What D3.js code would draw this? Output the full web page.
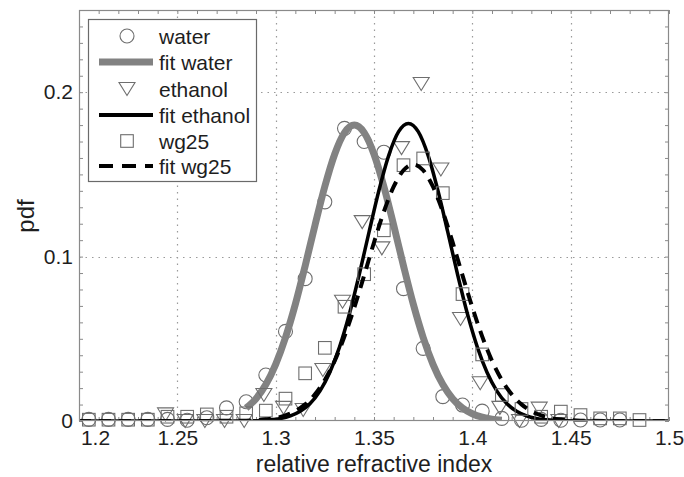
<!DOCTYPE html>
<html><head><meta charset="utf-8">
<script src="https://cdn.jsdelivr.net/npm/d3@7"></script>
<style>
body{margin:0;background:#fff}
text{font-family:"Liberation Sans",Arial,Helvetica,sans-serif;fill:#1e1e1e}
</style>
</head><body><svg id="c" width="684" height="477"></svg>
<script>
// ---- data ----
const xTicks = [1.2, 1.25, 1.3, 1.35, 1.4, 1.45, 1.5];
const xTickLabels = ["1.2", "1.25", "1.3", "1.35", "1.4", "1.45", "1.5"];
const yTicks = [0, 0.1, 0.2];
const yTickLabels = ["0", "0.1", "0.2"];
const xLabel = "relative refractive index";
const yLabel = "pdf";
const legendLabels = ["water", "fit water", "ethanol", "fit ethanol", "wg25", "fit wg25"];

const waterX = [1.205,1.215,1.225,1.235,1.245,1.255,1.265,1.275,1.285,1.295,1.305,1.315,1.325,1.335,1.345,1.355,1.365,1.375,1.385,1.395,1.405,1.415,1.425,1.435,1.445,1.455,1.465,1.475];
const waterY = [0.001,0.001,0.001,0.001,0.001,0.0005,0.002,0.008,0.0117,0.028,0.0545,0.0866,0.1333,0.178,0.170,0.1635,0.0805,0.0442,0.0148,0.0097,0.006,0.0016,0.0005,0.001,0.0005,0.0006,0.0006,0.0006];

const ethanolX = [1.244,1.254,1.264,1.274,1.284,1.294,1.304,1.314,1.324,1.334,1.344,1.354,1.364,1.374,1.384,1.394,1.404,1.414,1.424,1.434,1.444];
const ethanolY = [0.004,0,0,0,0,0.0158,0.008,0.0067,0.031,0.0725,0.121,0.105,0.166,0.205,0.153,0.062,0.023,0.008,0,0.0075,0];

const wgX = [1.205,1.215,1.225,1.235,1.245,1.255,1.265,1.275,1.285,1.295,1.305,1.315,1.325,1.335,1.345,1.355,1.365,1.375,1.385,1.395,1.405,1.415,1.425,1.435,1.445,1.455,1.465,1.475,1.485];
const wgY = [0.0008,0.0008,0.0008,0.0008,0.0026,0.0026,0.004,0.0026,0.0047,0.0063,0.0136,0.029,0.0445,0.0695,0.0893,0.116,0.1556,0.1597,0.1386,0.0772,0.0405,0.0158,0.0073,0.0026,0.0057,0.0036,0.0016,0.0016,0.0006];

const fitWaterX = [1.285,1.29,1.295,1.30,1.305,1.31,1.315,1.32,1.325,1.33,1.335,1.34,1.345,1.35,1.355,1.36,1.365,1.37,1.375,1.38,1.385,1.39,1.395,1.40,1.405,1.41,1.415];
const fitWaterY = [0.0079,0.0136,0.0222,0.0345,0.0508,0.0710,0.0944,0.1191,0.1427,0.1623,0.1754,0.18,0.1754,0.1623,0.1427,0.1191,0.0944,0.0710,0.0508,0.0345,0.0222,0.0136,0.0079,0.0044,0.0023,0.0011,0.0005];

const fitEthanolX = [1.2,1.28,1.2875,1.2925,1.2975,1.3025,1.3075,1.3125,1.3175,1.3225,1.3275,1.3325,1.3375,1.3425,1.3475,1.3525,1.3575,1.3625,1.3675,1.3725,1.3775,1.3825,1.3875,1.3925,1.3975,1.4025,1.4075,1.4125,1.4175,1.4225,1.4275,1.4325,1.4375,1.4425,1.4475,1.455,1.5];
const fitEthanolY = [0,0,0.0001,0.0003,0.0007,0.0015,0.0031,0.0059,0.0106,0.0182,0.0295,0.0451,0.0652,0.0891,0.1150,0.1402,0.1616,0.1760,0.181,0.1760,0.1616,0.1402,0.1150,0.0891,0.0652,0.0451,0.0295,0.0182,0.0106,0.0059,0.0031,0.0015,0.0007,0.0003,0.0001,0,0];

const fitWgX = [1.2,1.28,1.285,1.29,1.295,1.30,1.305,1.31,1.315,1.32,1.325,1.33,1.335,1.34,1.345,1.35,1.355,1.36,1.365,1.37,1.375,1.38,1.385,1.39,1.395,1.40,1.405,1.41,1.415,1.42,1.425,1.43,1.435,1.44,1.445,1.45,1.455,1.46,1.5];
const fitWgY = [0,0.0001,0.0002,0.0005,0.0010,0.0018,0.0034,0.0060,0.0101,0.0162,0.0249,0.0366,0.0515,0.0691,0.0886,0.1086,0.1273,0.1425,0.1525,0.156,0.1525,0.1425,0.1273,0.1086,0.0886,0.0691,0.0515,0.0366,0.0249,0.0162,0.0101,0.0060,0.0034,0.0018,0.0010,0.0005,0.0002,0.0001,0];

// ---- layout ----
const L = 79, R = 669, T = 10, B = 421;
const svg = d3.select("#c");
const x = d3.scaleLinear().domain([1.2, 1.5]).range([L, R]);
const y = d3.scaleLinear().domain([0, 0.25]).range([B, T]);
const minorX = d3.range(0, 31).map(i => +(1.2 + i * 0.01).toFixed(3));
const minorY = d3.range(0, 26).map(i => +(i * 0.01).toFixed(3));
const AX = "#8a8a8a", MK = "#6e6e6e";

svg.append("rect").attr("width", 684).attr("height", 477).attr("fill", "#fff");
svg.append("defs").append("clipPath").attr("id", "clip")
  .append("rect").attr("x", L).attr("y", T).attr("width", R - L).attr("height", B - T);

// grid
const grid = svg.append("g").attr("stroke", "#9a9a9a").attr("stroke-width", 1.2).attr("stroke-dasharray", "1.5,5");
grid.selectAll("line.gx").data(xTicks.slice(1, -1)).join("line")
  .attr("x1", d => Math.round(x(d)) + 0.5).attr("x2", d => Math.round(x(d)) + 0.5).attr("y1", T).attr("y2", B);
grid.selectAll("line.gy").data(yTicks.slice(1)).join("line")
  .attr("y1", d => Math.round(y(d)) + 0.5).attr("y2", d => Math.round(y(d)) + 0.5).attr("x1", L).attr("x2", R);

// minor/major ticks via axes
function styleTicks(g) { g.select(".domain").remove(); g.selectAll("line").attr("stroke", AX); g.selectAll("text").remove(); }
svg.append("g").attr("transform", `translate(0,${B})`).call(d3.axisBottom(x).tickValues(minorX).tickSize(-4).tickFormat("")).call(styleTicks);
svg.append("g").attr("transform", `translate(0,${T})`).call(d3.axisTop(x).tickValues(minorX).tickSize(-4).tickFormat("")).call(styleTicks);
svg.append("g").attr("transform", `translate(${L},0)`).call(d3.axisLeft(y).tickValues(minorY).tickSize(-4).tickFormat("")).call(styleTicks);
svg.append("g").attr("transform", `translate(${R},0)`).call(d3.axisRight(y).tickValues(minorY).tickSize(-4).tickFormat("")).call(styleTicks);

// tick labels
const xl = svg.append("g").attr("transform", `translate(0,${B})`)
  .call(d3.axisBottom(x).tickValues(xTicks).tickSize(0).tickPadding(9).tickFormat((d, i) => xTickLabels[i]));
xl.select(".domain").remove();
xl.selectAll("text").attr("font-size", 21).attr("fill", "#1e1e1e").attr("font-family", '"Liberation Sans",Arial,sans-serif');
xl.selectAll(".tick").filter((d, i) => i === 0).select("text").attr("dx", 16);
const yl = svg.append("g").attr("transform", `translate(${L},0)`)
  .call(d3.axisLeft(y).tickValues(yTicks).tickSize(0).tickPadding(6).tickFormat((d, i) => yTickLabels[i]));
yl.select(".domain").remove();
yl.selectAll("text").attr("font-size", 21).attr("fill", "#1e1e1e").attr("font-family", '"Liberation Sans",Arial,sans-serif');

// axis labels
svg.append("text").attr("x", (L + R) / 2).attr("y", 472).attr("text-anchor", "middle").attr("font-size", 23).text(xLabel);
svg.append("text").attr("transform", "translate(34,216) rotate(-90)").attr("text-anchor", "middle").attr("font-size", 24).text(yLabel);

// marker shapes
const tri = "M-8,-6.5L8,-6.5L0,6.5Z";
const plot = svg.append("g");
const lineGen = d3.line().x(d => x(d[0])).y(d => y(d[1])).curve(d3.curveMonotoneX);

// water circles
plot.append("g").selectAll("circle").data(d3.zip(waterX, waterY)).join("circle")
  .attr("cx", d => x(d[0])).attr("cy", d => y(d[1])).attr("r", 7)
  .attr("fill", "none").attr("stroke", MK).attr("stroke-width", 1.1);
// fit water
plot.append("path").attr("clip-path", "url(#clip)").attr("d", lineGen(d3.zip(fitWaterX, fitWaterY)))
  .attr("fill", "none").attr("stroke", "#828282").attr("stroke-width", 7);
// ethanol triangles
plot.append("g").selectAll("path").data(d3.zip(ethanolX, ethanolY)).join("path")
  .attr("transform", d => `translate(${x(d[0])},${y(d[1])})`).attr("d", tri)
  .attr("fill", "none").attr("stroke", MK).attr("stroke-width", 1.1);
// fit ethanol
plot.append("path").attr("clip-path", "url(#clip)").attr("d", lineGen(d3.zip(fitEthanolX, fitEthanolY)))
  .attr("fill", "none").attr("stroke", "#000").attr("stroke-width", 3.5);
// wg25 squares
plot.append("g").selectAll("rect").data(d3.zip(wgX, wgY)).join("rect")
  .attr("x", d => x(d[0]) - 6.3).attr("y", d => y(d[1]) - 6.3).attr("width", 12.6).attr("height", 12.6)
  .attr("fill", "none").attr("stroke", MK).attr("stroke-width", 1.1);
// fit wg25
plot.append("path").attr("clip-path", "url(#clip)").attr("d", lineGen(d3.zip(fitWgX, fitWgY)))
  .attr("fill", "none").attr("stroke", "#000").attr("stroke-width", 4).attr("stroke-dasharray", "12,8");

// box
svg.append("rect").attr("x", L + 0.5).attr("y", T + 0.5).attr("width", R - L - 1).attr("height", B - T - 1)
  .attr("fill", "none").attr("stroke", AX).attr("stroke-width", 1.2);

// legend
const lg = svg.append("g");
lg.append("rect").attr("x", 88.5).attr("y", 19.5).attr("width", 168).attr("height", 162)
  .attr("fill", "#fff").attr("stroke", "#6a6a6a").attr("stroke-width", 1.2);
const rowY = [36, 62, 89, 115, 141, 166];
const sx = 127, lx1 = 99, lx2 = 153, tx = 159;
lg.append("circle").attr("cx", sx).attr("cy", rowY[0]).attr("r", 7).attr("fill", "none").attr("stroke", MK).attr("stroke-width", 1.1);
lg.append("line").attr("x1", lx1).attr("x2", lx2).attr("y1", rowY[1]).attr("y2", rowY[1]).attr("stroke", "#828282").attr("stroke-width", 7);
lg.append("path").attr("transform", `translate(${sx},${rowY[2]})`).attr("d", tri).attr("fill", "none").attr("stroke", MK).attr("stroke-width", 1.1);
lg.append("line").attr("x1", lx1).attr("x2", lx2).attr("y1", rowY[3]).attr("y2", rowY[3]).attr("stroke", "#000").attr("stroke-width", 4);
lg.append("rect").attr("x", sx - 6.3).attr("y", rowY[4] - 6.3).attr("width", 12.6).attr("height", 12.6).attr("fill", "none").attr("stroke", MK).attr("stroke-width", 1.1);
lg.append("line").attr("x1", lx1).attr("x2", lx2).attr("y1", rowY[5]).attr("y2", rowY[5]).attr("stroke", "#000").attr("stroke-width", 4).attr("stroke-dasharray", "14,9");
lg.selectAll("text").data(legendLabels).join("text")
  .attr("x", tx).attr("y", (d, i) => rowY[i] + 7.5).attr("font-size", 21).text(d => d);
</script>
</body></html>
